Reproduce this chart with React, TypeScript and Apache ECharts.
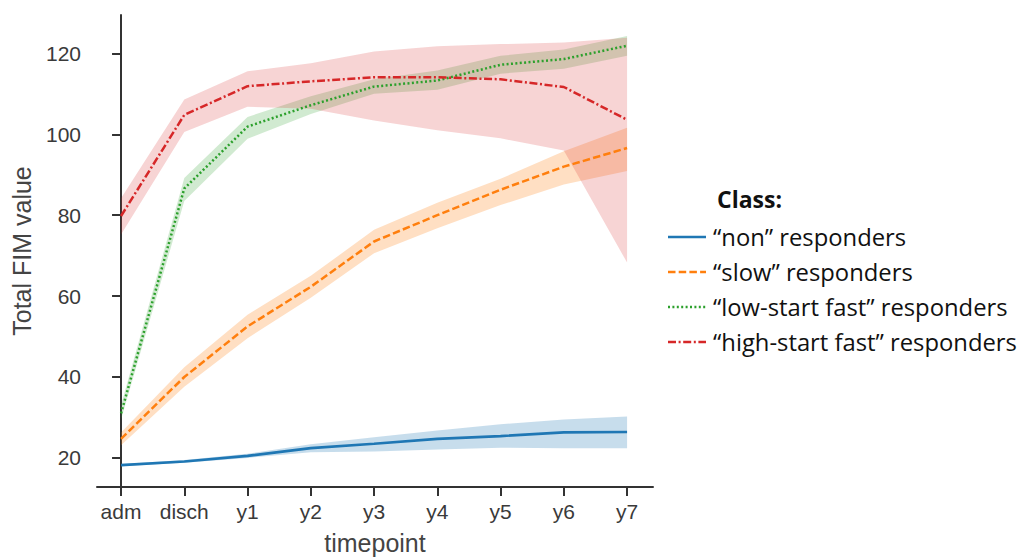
import React, { useEffect, useRef } from "react";
import * as echarts from "echarts";

const categories = ["adm", "disch", "y1", "y2", "y3", "y4", "y5", "y6", "y7"];
const yTicks = [20, 40, 60, 80, 100, 120];

const classNames = [
  "“non” responders",
  "“slow” responders",
  "“low-start fast” responders",
  "“high-start fast” responders",
];

// "non" responders
const nonMean = [18.2, 19.1, 20.5, 22.4, 23.5, 24.7, 25.4, 26.3, 26.4];
const nonLow = [17.9, 18.8, 20.0, 21.4, 21.6, 22.1, 22.5, 22.4, 22.4];
const nonHigh = [18.5, 19.5, 21.0, 23.4, 25.1, 26.8, 28.3, 29.5, 30.2];

// "slow" responders
const slowMean = [24.7, 40.0, 52.5, 62.3, 73.5, 80.0, 86.3, 92.0, 96.6];
const slowLow = [23.1, 37.6, 49.6, 59.6, 70.6, 76.8, 82.5, 87.6, 90.9];
const slowHigh = [26.3, 42.4, 55.4, 65.0, 76.4, 83.1, 89.0, 95.8, 101.6];

// "low-start fast" responders
const lowFastMean = [31.0, 86.6, 101.9, 107.2, 111.8, 113.3, 117.2, 118.6, 121.9];
const lowFastLow = [29.5, 83.5, 98.9, 105.0, 110.0, 111.0, 115.0, 116.2, 119.4];
const lowFastHigh = [33.0, 89.2, 104.3, 109.4, 113.6, 115.8, 119.4, 121.0, 124.3];

// "high-start fast" responders
const highFastMean = [79.8, 104.8, 111.9, 113.1, 114.1, 114.1, 113.6, 111.7, 103.6];
const highFastLow = [75.2, 100.6, 106.8, 106.3, 103.4, 101.0, 99.0, 96.0, 68.3];
const highFastHigh = [84.2, 108.6, 115.6, 117.6, 120.5, 121.8, 122.3, 122.7, 123.9];

const means = [nonMean, slowMean, lowFastMean, highFastMean];
const lows = [nonLow, slowLow, lowFastLow, highFastLow];
const highs = [nonHigh, slowHigh, lowFastHigh, highFastHigh];

const colors = ["#1f77b4", "#ff7f0e", "#2ca02c", "#d62728"];
const lineTypes: any[] = ["solid", [7.5, 3.2], [2, 2.4], [8, 2.6, 2, 2.6]];
const bandOpacity = [0.25, 0.25, 0.22, 0.2];

export default function App() {
  const ref = useRef<HTMLDivElement>(null);
  useEffect(() => {
    if (!ref.current) return;
    const chart = echarts.init(ref.current, null, { renderer: "svg" });
    const series: any[] = [];
    means.forEach((mean, k) => {
      const low = lows[k];
      const high = highs[k];
      series.push({
        type: "custom",
        name: "band" + k,
        silent: true,
        z: 1,
        data: low.map((v, i) => [i, v, high[i]]),
        encode: { x: 0, y: [1, 2] },
        renderItem: (params: any, api: any) => {
          if (params.dataIndex !== 0) return null;
          const top = high.map((v, i) => api.coord([i, v]));
          const bottom = low.map((v, i) => api.coord([i, v])).reverse();
          return {
            type: "polygon",
            shape: { points: top.concat(bottom) },
            style: { fill: colors[k], opacity: bandOpacity[k] },
          };
        },
      });
    });
    means.forEach((mean, k) => {
      series.push({
        type: "line",
        name: classNames[k],
        data: mean.map((v, i) => [i, v]),
        symbol: "none",
        lineStyle: { color: colors[k], width: k === 0 ? 2.7 : 2.5, type: lineTypes[k] },
        z: 3,
      });
    });

    const legendX = 668;
    const legendText = 713;
    const rowY = [237, 272, 307, 342];
    const graphics: any[] = [
      {
        type: "text",
        x: 717,
        y: 199,
        style: {
          text: "Class:",
          font: "bold 23px 'Open Sans'",
          fill: "#111",
          verticalAlign: "middle",
        },
      },
    ];
    classNames.forEach((name, k) => {
      graphics.push({
        type: "line",
        shape: { x1: legendX, y1: rowY[k], x2: legendX + 38, y2: rowY[k] },
        style: {
          stroke: colors[k],
          lineWidth: 2.4,
          lineDash: k === 0 ? null : lineTypes[k],
        },
      });
      graphics.push({
        type: "text",
        x: legendText,
        y: rowY[k],
        style: {
          text: name,
          font: "23.8px 'Open Sans'",
          fill: "#111",
          verticalAlign: "middle",
          textAlign: "left",
        },
      });
    });

    chart.setOption({
      animation: false,
      grid: { left: 97, right: 368, top: 15, bottom: 68, containLabel: false },
      xAxis: {
        type: "value",
        min: -0.38,
        max: 8.41,
        name: "timepoint",
        nameLocation: "middle",
        nameGap: 43,
        nameTextStyle: { fontFamily: "Liberation Sans", fontSize: 25, color: "#444" },
        splitLine: { show: false },
        axisLine: { show: true, lineStyle: { color: "#333", width: 2 } },
        axisTick: {
          show: true,
          length: 9,
          lineStyle: { color: "#333", width: 2 },
          customValues: categories.map((_, i) => i),
        },
        axisLabel: {
          fontFamily: "Liberation Sans",
          fontSize: 21,
          color: "#3a3a3a",
          margin: 14,
          customValues: categories.map((_, i) => i),
          formatter: (v: number) => categories[Math.round(v)] ?? "",
        },
      },
      yAxis: {
        type: "value",
        min: 12.8,
        max: 129.5,
        name: "Total FIM value",
        nameLocation: "middle",
        nameGap: 63,
        nameTextStyle: { fontFamily: "Liberation Sans", fontSize: 25, color: "#444" },
        splitLine: { show: false },
        axisLine: { show: true, lineStyle: { color: "#333", width: 2 } },
        axisTick: {
          show: true,
          length: 9,
          lineStyle: { color: "#333", width: 2 },
          customValues: yTicks,
        },
        axisLabel: {
          fontFamily: "Liberation Sans",
          fontSize: 21,
          color: "#3a3a3a",
          margin: 16,
          customValues: yTicks,
        },
      },
      series,
      graphic: graphics,
    });
    return () => chart.dispose();
  }, []);
  return <div ref={ref} style={{ width: 1021, height: 560, position: "absolute", left: 0, top: 0, background: "#fff" }} />;
}
